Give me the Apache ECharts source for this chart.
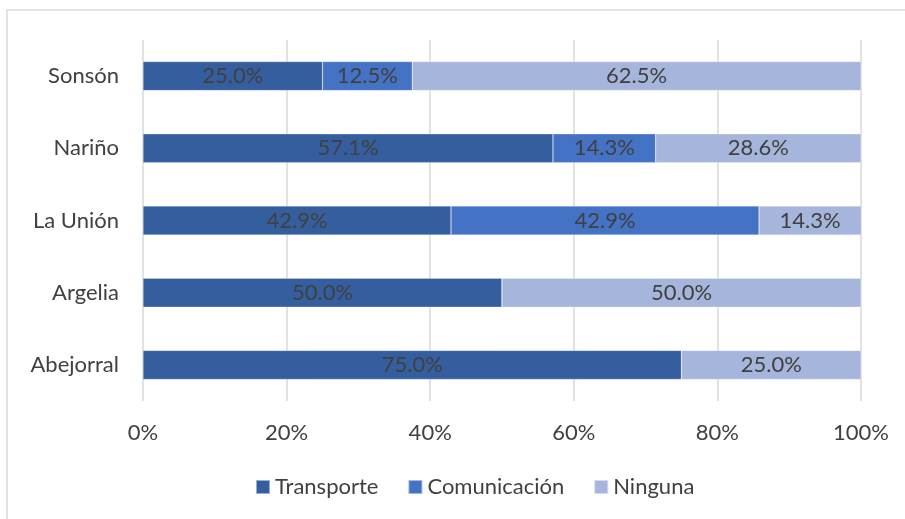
<!DOCTYPE html>
<html>
<head>
<meta charset="utf-8">
<script src="https://cdn.jsdelivr.net/npm/echarts@6/dist/echarts.min.js"></script>
<style>
  html, body { margin: 0; padding: 0; background: #fff; }
  #main { width: 905px; height: 519px; }
</style>
</head>
<body>
<div id="main"></div>
<script>
var categories = ["Abejorral", "Argelia", "La Unión", "Nariño", "Sonsón"];
var transporte = [75.0, 50.0, 42.9, 57.1, 25.0];
var comunicacion = [0, 0, 42.9, 14.3, 12.5];
var ninguna = [25.0, 50.0, 14.3, 28.6, 62.5];
var xTicks = [0, 20, 40, 60, 80, 100];

var fontFamily = "Lato, 'Open Sans', sans-serif";
var textColor = "#404040";

function makeSeries(name, data, color) {
  return {
    name: name,
    type: "bar",
    stack: "total",
    barWidth: 29,
    data: data,
    itemStyle: { color: color, borderColor: "rgba(255,255,255,0.5)", borderWidth: 0.5 },
    label: {
      show: true,
      position: "inside",
      color: textColor,
      fontSize: 22,
      fontFamily: fontFamily,
      formatter: function (p) {
        return p.value > 0 ? p.value.toFixed(1) + "%" : "";
      }
    }
  };
}

var myChart = echarts.init(document.getElementById("main"));
var option = {
  animation: false,
  graphic: [{
    type: "rect",
    shape: { x: 7, y: 10, width: 910, height: 520 },
    style: { fill: "none", stroke: "#d9d9d9", lineWidth: 1.5 },
    silent: true
  }],
  grid: { left: 143, right: 44, top: 40, bottom: 118 },
  legend: {
    data: ["Transporte", "Comunicación", "Ninguna"],
    bottom: 16,
    left: 250,
    itemWidth: 14,
    itemHeight: 14,
    itemGap: 29,
    icon: "rect",
    textStyle: { color: textColor, fontSize: 22, fontFamily: fontFamily }
  },
  xAxis: {
    type: "value",
    min: 0,
    max: 100,
    interval: 20,
    axisLine: { show: false },
    axisTick: { show: false },
    splitLine: { show: true, lineStyle: { color: "#d9d9d9", width: 1.5 } },
    axisLabel: {
      color: textColor,
      fontSize: 22,
      fontFamily: fontFamily,
      margin: 21,
      formatter: function (v) { return xTicks.indexOf(v) >= 0 ? v + "%" : ""; }
    }
  },
  yAxis: {
    type: "category",
    data: categories,
    axisLine: { show: false },
    axisTick: { show: false },
    axisLabel: { color: textColor, fontSize: 22, fontFamily: fontFamily, margin: 24 }
  },
  series: [
    makeSeries("Transporte", transporte, "#355E9F"),
    makeSeries("Comunicación", comunicacion, "#4472C4"),
    makeSeries("Ninguna", ninguna, "#A6B5DB")
  ]
};
myChart.setOption(option);
</script>
</body>
</html>
